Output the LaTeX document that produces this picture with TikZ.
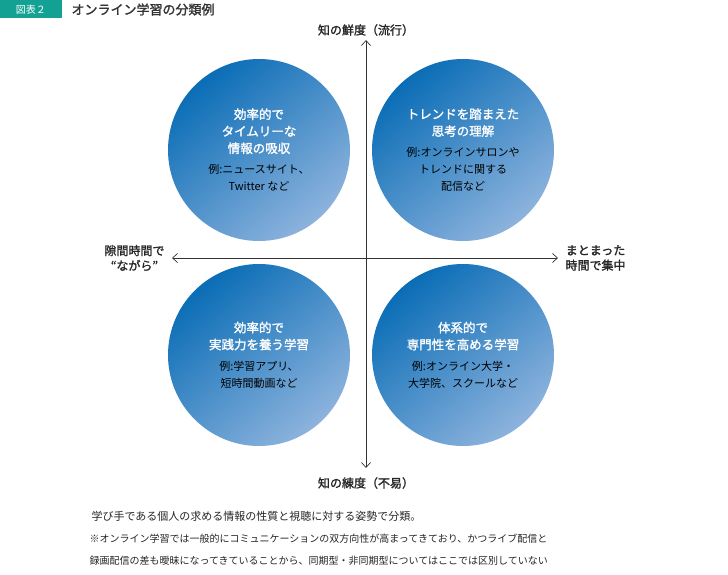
\documentclass[tikz,border=0pt]{standalone}
\usepackage{fontspec}
\setmainfont{Noto Sans CJK JP}
\newfontfamily\jpbold{Noto Sans CJK JP}[FakeBold=1.5]
\usetikzlibrary{arrows.meta}
\definecolor{deepblue}{HTML}{0A6DB6}
\definecolor{paleblue}{HTML}{8DB3DD}
\definecolor{tagteal}{HTML}{12A192}
\tikzset{blob/.style={circle, minimum size=182pt, inner sep=0pt, top color=deepblue,
                      bottom color=paleblue, shading angle=40, align=center, font=\fontsize{11}{17}\selectfont},
         axislabel/.style={font=\jpbold\fontsize{12}{15}\selectfont, align=center, text=black!85},
         axisline/.style={black!80, line width=0.7pt, {Straight Barb[length=5pt,width=9pt]}-{Straight Barb[length=5pt,width=9pt]}}}
\newcommand{\head}[1]{\textcolor{white}{\jpbold\fontsize{12.5}{20}\selectfont #1}}
\begin{document}
\begin{tikzpicture}[x=1pt,y=-1pt]
                \useasboundingbox (0,0) rectangle (728,575);
                \fill[white] (0,0) rectangle (728,575);

                \node[fill=tagteal, text=white, minimum width=62pt, minimum height=18pt, font=\fontsize{10}{12}\selectfont] (tag) at (31,9.5) {図表２};
                \node[anchor=west, font=\jpbold\fontsize{13}{15}\selectfont, text=black!80] (title) at (68,9.5) {オンライン学習の分類例};

                \node[blob] (c1) at (259,150) {\head{効率的で}\\\head{タイムリーな}\\\head{情報の吸収}\\[4pt]例:ニュースサイト、\\Twitter など};
                \node[blob] (c2) at (463,150) {\head{トレンドを踏まえた}\\\head{思考の理解}\\[4pt]例:オンラインサロンや\\トレンドに関する\\配信など};
                \node[blob] (c3) at (259,355) {\head{効率的で}\\\head{実践力を養う学習}\\[4pt]例:学習アプリ、\\短時間動画など};
                \node[blob] (c4) at (463,355) {\head{体系的で}\\\head{専門性を高める学習}\\[4pt]例:オンライン大学・\\大学院、スクールなど};

                \node[axislabel] (up) at (366,30) {知の鮮度（流行）};
                \node[axislabel] (down) at (366,483) {知の練度（不易）};
                \node[axislabel, anchor=east] (left) at (168,258) {隙間時間で\\“ながら”};
                \node[axislabel, anchor=west] (right) at (562,258) {まとまった\\時間で集中};

                \coordinate (vtop) at (366,40);
                \coordinate (vbot) at (366,468);
                \coordinate (hl) at (172,258);
                \coordinate (hr) at (558,258);
                \draw[axisline] (vbot) -- (vtop);
                \draw[axisline] (hl) -- (hr);

                \node[anchor=west, font=\fontsize{11}{14}\selectfont, text=black!85] (note1) at (88,516) {学び手である個人の求める情報の性質と視聴に対する姿勢で分類。};
                \node[anchor=north west, align=left, font=\fontsize{10}{22}\selectfont, text=black!85] (note2) at (86,530) {※オンライン学習では一般的にコミュニケーションの双方向性が高まってきており、かつライブ配信と\\録画配信の差も曖昧になってきていることから、同期型・非同期型についてはここでは区別していない};
            \end{tikzpicture}
\end{document}
